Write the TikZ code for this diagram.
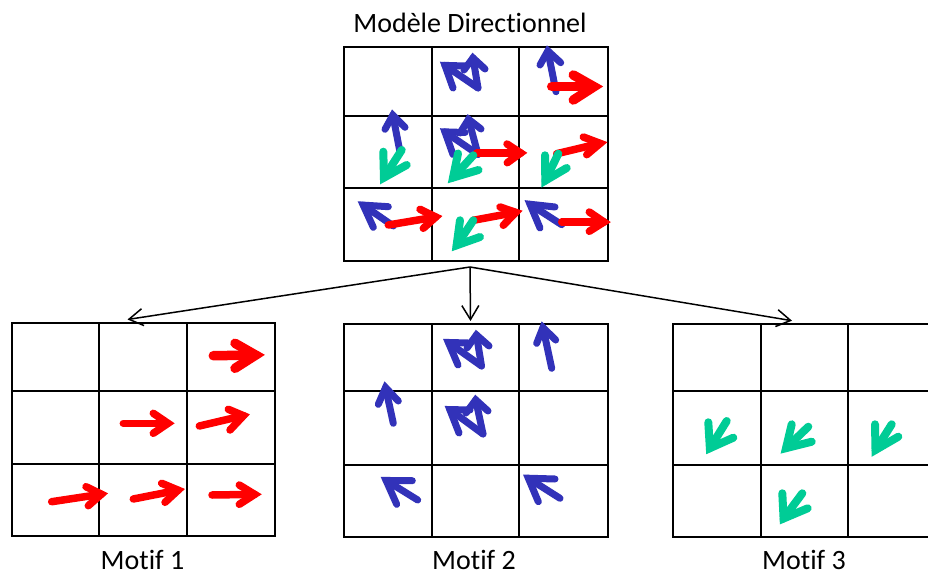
\documentclass[tikz,border=0pt]{standalone}
\usepackage{fontspec}
\setmainfont{Carlito}[Ligatures={NoCommon}]
\usetikzlibrary{arrows.meta,calc}
\definecolor{arrred}{RGB}{255,0,0}
\definecolor{arrblue}{RGB}{50,50,185}
\definecolor{arrgreen}{RGB}{0,204,150}
\newcommand\vecarrow[5]{%
  \coordinate (vaTip) at ($#3!6pt!#2$);
  \draw[#1,line cap=round] #2 -- (vaTip);
  \draw[#1,line cap=round,line join=miter,miter limit=20] #4 -- (vaTip) -- #5;}
\tikzset{
  gridline/.style={draw=black, line width=2pt, line cap=rect},
  redarr/.style={draw=arrred, line width=7.5pt},
  redbig/.style={draw=arrred, line width=9.5pt},
  bluearr/.style={draw=arrblue, line width=7pt},
  greenarr/.style={draw=arrgreen, line width=8pt},
  conn/.style={draw=black, line width=1.5pt, -{Straight Barb[length=14pt,width=17pt]}},
  lbl/.style={font=\fontsize{28}{34}\selectfont, inner sep=0pt, text=black}
}
\begin{document}
\begin{tikzpicture}[x=1pt,y=-1pt]
\useasboundingbox (0,0) rectangle (928,577);
\clip (0,0) rectangle (928,577);
\fill[white] (0,0) rectangle (928,577);

% ---------- grids ----------
% top grid
\foreach \x in {344,432,519,608} \draw[gridline] (\x,47) -- (\x,261);
\foreach \y in {47,116,188,261} \draw[gridline] (344,\y) -- (608,\y);
% motif 1
\foreach \x in {12,99,187,275} \draw[gridline] (\x,323) -- (\x,536);
\foreach \y in {323,391,464,536} \draw[gridline] (12,\y) -- (275,\y);
% motif 2
\foreach \x in {344,432,519,608} \draw[gridline] (\x,324) -- (\x,537);
\foreach \y in {324,391,465,537} \draw[gridline] (344,\y) -- (608,\y);
% motif 3
\foreach \x in {673,761,848,936} \draw[gridline] (\x,324) -- (\x,537);
\foreach \y in {324,391,465,537} \draw[gridline] (673,\y) -- (936,\y);

% ---------- labels ----------
\node[lbl, anchor=base] (title) at (470,33) {Modèle Directionnel};
\node[lbl, anchor=base] (lblA) at (142.5,569) {Motif 1};
\node[lbl, anchor=base] (lblB) at (474,569) {Motif 2};
\node[lbl, anchor=base] (lblC) at (804,569) {Motif 3};

% ---------- connectors ----------
\coordinate (src) at (470,267);
\coordinate (tipA) at (127.5,319.5);
\coordinate (tipB) at (470.5,321);
\coordinate (tipC) at (792,320.7);
\draw[conn] (src) -- (tipA);
\draw[conn] (src) -- (tipB);
\draw[conn] (src) -- (tipC);

% ---------- top grid arrows ----------
% blue
\vecarrow{bluearr}{(478,88)}{(440,62)}{(453,88)}{(465,66)}
\vecarrow{bluearr}{(478,88)}{(472,52)}{(464,70)}{(485,69)}
\vecarrow{bluearr}{(556,91.7)}{(546.7,45)}{(540,65)}{(560.7,62.7)}
\vecarrow{bluearr}{(400,152)}{(391.7,109.3)}{(385,129.3)}{(405,127.3)}
\vecarrow{bluearr}{(478,154.5)}{(440,128.5)}{(453,154.5)}{(465,132.5)}
\vecarrow{bluearr}{(478,154.5)}{(467,113.5)}{(460,133)}{(481,129)}
\vecarrow{bluearr}{(393.3,226)}{(358.3,201.7)}{(388.3,206.7)}{(373.3,227.3)}
\vecarrow{bluearr}{(561.7,224.7)}{(525,201)}{(555,207)}{(540,228)}
% red
\vecarrow{redbig}{(551.7,86.7)}{(600,86.7)}{(573.3,75)}{(573.3,100)}
\vecarrow{redarr}{(476.7,153)}{(526.7,153)}{(507,144)}{(507.3,162.7)}
\vecarrow{redarr}{(556.7,153.7)}{(606,142)}{(583.3,137)}{(586.7,154.7)}
\vecarrow{redarr}{(388.3,225)}{(441.7,216)}{(420,209.3)}{(423.3,228.3)}
\vecarrow{redarr}{(473.3,220.3)}{(521.7,211.3)}{(500,207)}{(503.3,225.3)}
\vecarrow{redarr}{(561.7,222)}{(610,222)}{(589.3,212)}{(589.3,231.3)}
% green
\vecarrow{greenarr}{(401.7,150)}{(380.7,182.7)}{(383.3,151.7)}{(406.7,165)}
\vecarrow{greenarr}{(473.3,155.3)}{(449,182)}{(458,153.5)}{(478.5,170)}
\vecarrow{greenarr}{(558.3,153.7)}{(542.7,186)}{(545,155.3)}{(566.7,168)}
\vecarrow{greenarr}{(473.3,220.3)}{(453.3,250.3)}{(460,220.3)}{(480,237)}

% ---------- motif 1 (red) ----------
\vecarrow{redbig}{(213.3,355.7)}{(261.7,355)}{(235,343.3)}{(235,368.3)}
\vecarrow{redarr}{(123.3,423.3)}{(174,423.3)}{(153.3,413.3)}{(153.3,433.3)}
\vecarrow{redarr}{(199.3,426)}{(249.3,414.3)}{(228.3,409.3)}{(230,430)}
\vecarrow{redarr}{(51.7,501.7)}{(107.3,493.3)}{(86,486.7)}{(88.3,505.7)}
\vecarrow{redarr}{(133.3,499)}{(184,489)}{(161.7,483.3)}{(165,502.3)}
\vecarrow{redarr}{(212,495)}{(260.7,494.3)}{(239.3,485)}{(239.3,504.3)}

% ---------- motif 2 (blue) ----------
\vecarrow{bluearr}{(481.5,366)}{(443.5,339)}{(458,365)}{(468,343)}
\vecarrow{bluearr}{(481.5,366)}{(475.5,329)}{(467,348)}{(489,346)}
\vecarrow{bluearr}{(483,434)}{(445,406)}{(459,433)}{(470,410)}
\vecarrow{bluearr}{(483,434)}{(474.5,394)}{(466,413)}{(488,411)}
\vecarrow{bluearr}{(551.7,368.3)}{(541.7,321.7)}{(536.7,343.3)}{(555.7,340)}
\vecarrow{bluearr}{(393.3,423.3)}{(384.3,381.7)}{(378.3,404.3)}{(398.3,401)}
\vecarrow{bluearr}{(417.7,500)}{(381,477.3)}{(412.3,480.7)}{(396.7,504.3)}
\vecarrow{bluearr}{(560,498.3)}{(523.3,475)}{(555,479)}{(538.3,501.7)}

% ---------- motif 3 (green) ----------
\vecarrow{greenarr}{(726.7,421)}{(706.7,453.3)}{(708.3,422.3)}{(733.3,437.7)}
\vecarrow{greenarr}{(808.3,426.7)}{(781.7,452.3)}{(791.7,424.3)}{(811.7,441.7)}
\vecarrow{greenarr}{(891.7,424.3)}{(872.3,455)}{(875,424.3)}{(898.3,436.7)}
\vecarrow{greenarr}{(802.3,493.3)}{(780,523.3)}{(782.3,493.3)}{(807.7,508.3)}
\end{tikzpicture}
\end{document}
